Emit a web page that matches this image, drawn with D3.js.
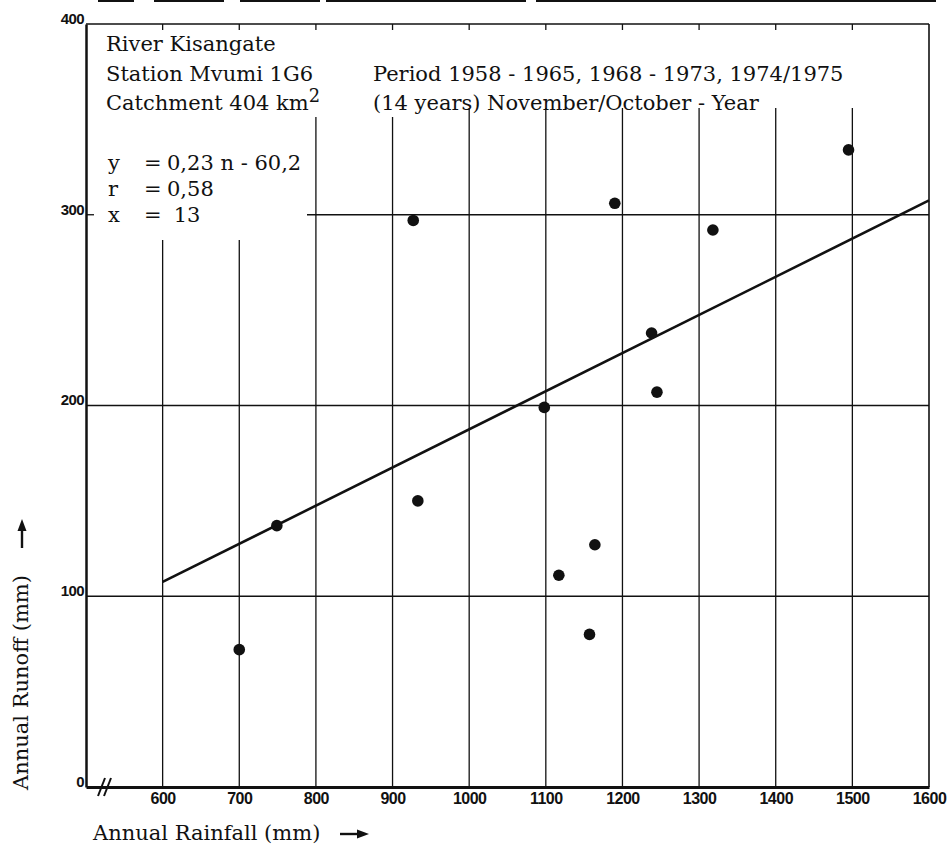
<!DOCTYPE html>
<html>
<head>
<meta charset="utf-8">
<script src="https://cdn.jsdelivr.net/npm/d3@7"></script>
<style>
  html, body { margin: 0; padding: 0; background: #fff; }
  svg { display: block; }
  .serif { font-family: "DejaVu Serif", serif; fill: #111; }
  .tick-label { font-family: "Liberation Sans", Arial, sans-serif; font-weight: bold; fill: #111; }
</style>
</head>
<body>
<svg id="chart" width="949" height="849"></svg>
<script>
// Annual rainfall (mm) and annual runoff (mm), one pair per year
const rainfall = [700, 749, 927, 933, 1098, 1117, 1157, 1164, 1190, 1238, 1245, 1318, 1495];
const runoff   = [72, 137, 297, 150, 199, 111, 80, 127, 306, 238, 207, 292, 334];

// Fitted line, as drawn from 600 mm to 1600 mm of rainfall
const fitRain   = [600, 1600];
const fitRunoff = [107.5, 307.5];

// Axis ticks
const xTicks = [600, 700, 800, 900, 1000, 1100, 1200, 1300, 1400, 1500, 1600];
const yTicks = [0, 100, 200, 300, 400];

// Header text
const headerLeft  = ["River Kisangate", "Station Mvumi 1G6", "Catchment 404 km"];
const headerRight = ["Period 1958 - 1965, 1968 - 1973, 1974/1975", "(14 years) November/October - Year"];
const statNames   = ["y", "r", "x"];
const statValues  = ["0,23 n - 60,2", "0,58", " 13"];

const svg = d3.select("#chart");
const L = 86, R = 929, T = 24, B = 787;

const x = d3.scaleLinear().domain([500, 1600]).range([L, R]);
const y = d3.scaleLinear().domain([0, 400]).range([B, T]);

const ink = "#111";
const fs = 21;

// rule along the top edge of the sheet
svg.append("line").attr("x1", 98).attr("x2", 949).attr("y1", 1).attr("y2", 1)
  .attr("stroke", ink).attr("stroke-width", 2)
  .attr("stroke-dasharray", "36 20 70 16 80 6 200 10 400");

// Where each vertical grid line resumes below the header text
function gridStart(v) {
  if (v <= 700) return 240;
  if (v <= 900) return 117;
  return 108;
}

const grid = svg.append("g").attr("stroke", ink).attr("stroke-width", 1.3);

// vertical grid lines (with short ticks hanging from the top frame)
const vTicks = xTicks.filter(v => v < 1600);
grid.selectAll("line.v").data(vTicks).join("line")
  .attr("class", "v")
  .attr("x1", d => x(d)).attr("x2", d => x(d))
  .attr("y1", d => gridStart(d)).attr("y2", B);
grid.selectAll("line.vt").data(vTicks).join("line")
  .attr("class", "vt")
  .attr("x1", d => x(d)).attr("x2", d => x(d))
  .attr("y1", T).attr("y2", T + 6);

// horizontal grid lines
grid.selectAll("line.h").data([100, 200]).join("line")
  .attr("class", "h")
  .attr("x1", L).attr("x2", R)
  .attr("y1", d => y(d)).attr("y2", d => y(d));
// the 300 line is broken where the statistics are written
grid.append("line")
  .attr("x1", 307).attr("x2", R)
  .attr("y1", y(300)).attr("y2", y(300));
grid.append("line")
  .attr("x1", L).attr("x2", L + 8)
  .attr("y1", y(300)).attr("y2", y(300));

// frame
svg.append("line").attr("x1", L).attr("x2", R).attr("y1", T).attr("y2", T)
  .attr("stroke", ink).attr("stroke-width", 1.6);
svg.append("line").attr("x1", R).attr("x2", R).attr("y1", T).attr("y2", B)
  .attr("stroke", ink).attr("stroke-width", 1.6);

// axes
const xAxis = d3.axisBottom(x).tickValues(xTicks).tickFormat(d3.format("d"))
  .tickSize(0).tickPadding(6);
const gx = svg.append("g").attr("transform", `translate(0,${B})`).call(xAxis);
gx.select(".domain").attr("stroke", ink).attr("stroke-width", 3);
gx.selectAll("text").attr("class", "tick-label").attr("font-size", 16)
  .attr("letter-spacing", -0.5).attr("fill", ink);

const yAxis = d3.axisLeft(y).tickValues(yTicks).tickFormat(d3.format("d"))
  .tickSize(0).tickPadding(2);
const gy = svg.append("g").attr("transform", `translate(${L},0)`).call(yAxis);
gy.select(".domain").attr("stroke", ink).attr("stroke-width", 2.5);
gy.selectAll("text").attr("class", "tick-label").attr("font-size", 15)
  .attr("letter-spacing", -0.6).attr("fill", ink).attr("dy", "-0.05em");

// axis break marks on the rainfall axis
const brk = svg.append("g").attr("stroke", ink).attr("stroke-width", 2);
[0, 6].forEach(dx => {
  brk.append("line")
    .attr("x1", 98 + dx).attr("y1", B + 9)
    .attr("x2", 105 + dx).attr("y2", B - 9);
});

// fitted line
svg.append("line")
  .attr("x1", x(fitRain[0])).attr("y1", y(fitRunoff[0]))
  .attr("x2", x(fitRain[1])).attr("y2", y(fitRunoff[1]))
  .attr("stroke", ink).attr("stroke-width", 2.6);

// observations
svg.append("g").selectAll("circle").data(d3.zip(rainfall, runoff)).join("circle")
  .attr("cx", d => x(d[0])).attr("cy", d => y(d[1]))
  .attr("r", 5.8).attr("fill", ink);

// header
const hl = svg.append("text").attr("class", "serif").attr("font-size", fs);
headerLeft.forEach((t, i) => {
  hl.append("tspan").attr("x", 106).attr("y", 51 + i * 29.5).text(t);
});
hl.append("tspan").attr("dy", -8).attr("font-size", fs * 0.85).text("2");

const hr = svg.append("text").attr("class", "serif").attr("font-size", fs);
headerRight.forEach((t, i) => {
  hr.append("tspan").attr("x", 373).attr("y", 80.5 + i * 29.5).text(t);
});

// regression statistics
statNames.forEach((n, i) => {
  const yy = 170 + i * 26;
  svg.append("text").attr("class", "serif").attr("font-size", fs)
    .attr("x", 108).attr("y", yy).text(n);
  svg.append("text").attr("class", "serif").attr("font-size", fs)
    .attr("x", 144).attr("y", yy).text("=");
  svg.append("text").attr("class", "serif").attr("font-size", fs)
    .attr("x", 167).attr("y", yy).attr("xml:space", "preserve").text(statValues[i]);
});

// axis titles with arrows
svg.append("text").attr("class", "serif").attr("font-size", fs)
  .attr("x", 93).attr("y", 840).text("Annual Rainfall (mm)");
const arrow = (g) => {
  g.append("line").attr("x1", 0).attr("y1", 0).attr("x2", 20).attr("y2", 0)
    .attr("stroke", ink).attr("stroke-width", 2.4);
  g.append("path").attr("d", "M29,0 L17,-4.5 L17,4.5 Z").attr("fill", ink);
};
svg.append("g").attr("transform", "translate(340,834)").call(arrow);

const yt = svg.append("g").attr("transform", "translate(28,790) rotate(-90)");
yt.append("text").attr("class", "serif").attr("font-size", fs)
  .attr("x", 0).attr("y", 0).text("Annual Runoff (mm)");
yt.append("g").attr("transform", "translate(242,-6)").call(arrow);
</script>
</body>
</html>
